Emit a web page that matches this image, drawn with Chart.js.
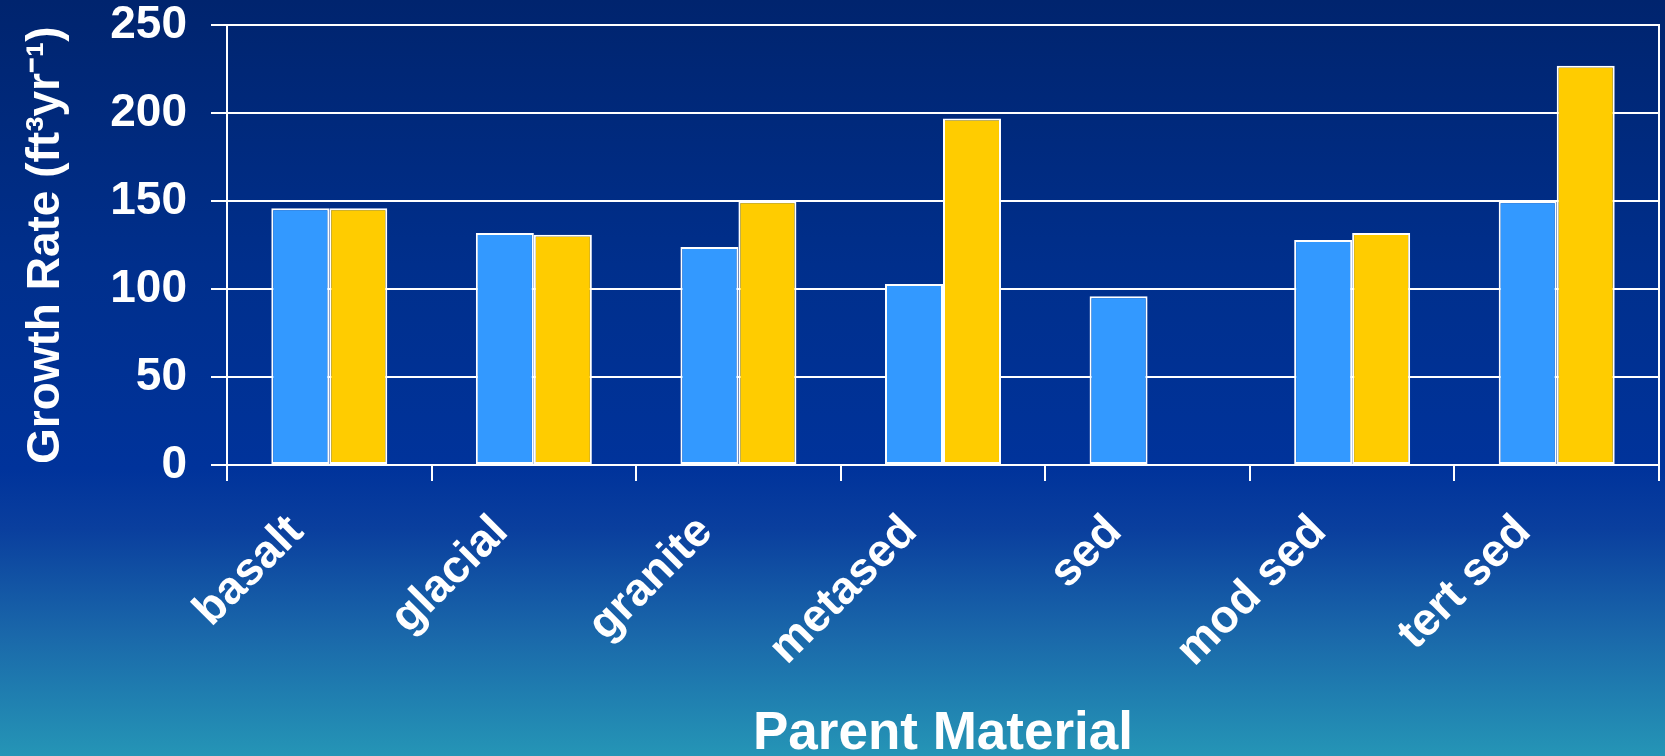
<!DOCTYPE html>
<html>
<head>
<meta charset="utf-8">
<script src="https://cdn.jsdelivr.net/npm/chart.js@4"></script>
<style>
  html, body { margin: 0; padding: 0; }
  body {
    width: 1665px; height: 756px; overflow: hidden;
    background: linear-gradient(to bottom, #00246e 0%, #002f8c 35%, #00339b 62%, #0a3f9e 70%, #1a68aa 84%, #2595b6 100%);
  }
  #wrap { position: relative; width: 1665px; height: 756px; }
</style>
</head>
<body>
<div id="wrap"><canvas id="growthChart"></canvas></div>
<script>
// 数据
const categories = ['basalt', 'glacial', 'granite', 'metased', 'sed', 'mod sed', 'tert sed'];
const seriesBlue = [146, 132, 124, 103, 96, 128, 150];
const seriesYellow = [146, 131, 150, 197, null, 132, 227];
const yTicks = [0, 50, 100, 150, 200, 250];

const FONT = '"Liberation Sans", Arial, sans-serif';

new Chart(document.getElementById('growthChart'), {
  type: 'bar',
  data: {
    labels: categories,
    datasets: [
      {
        label: 'Series 1',
        data: seriesBlue,
        backgroundColor: '#3399ff',
        borderColor: '#ffffff',
        borderWidth: 2,
        borderSkipped: false
      },
      {
        label: 'Series 2',
        data: seriesYellow,
        backgroundColor: '#ffcc00',
        borderColor: '#ffffff',
        borderWidth: 2,
        borderSkipped: false
      }
    ]
  },
  options: {
    responsive: true,
    maintainAspectRatio: false,
    animation: false,
    layout: { padding: { top: 0, right: 6, bottom: 0, left: 0 } },
    datasets: { bar: { categoryPercentage: 0.567, barPercentage: 1.0 } },
    plugins: { legend: { display: false }, tooltip: { enabled: false } },
    scales: {
      x: {
        grid: { display: true, drawOnChartArea: false, color: '#ffffff', lineWidth: 2, tickLength: 16 },
        border: { display: true, color: '#ffffff', width: 2 },
        ticks: {
          color: '#ffffff',
          font: { family: FONT, size: 46, weight: 'bold' },
          minRotation: 45, maxRotation: 45,
          padding: 24,
          labelOffset: -33,
          autoSkip: false
        },
        title: {
          display: true,
          text: 'Parent Material',
          color: '#ffffff',
          font: { family: FONT, size: 53, weight: 'bold', lineHeight: 0.8 },
          padding: { top: 0, bottom: 0 }
        },
        afterFit: (scale) => { scale.height = 291; }
      },
      y: {
        min: 0, max: 250,
        afterBuildTicks: (scale) => { scale.ticks = yTicks.map(v => ({ value: v })); },
        grid: { color: '#ffffff', lineWidth: 2, tickLength: 16 },
        border: { display: true, color: '#ffffff', width: 2 },
        ticks: {
          color: '#ffffff',
          // 行高压小，顶部留白基本只剩 padding
          font: { family: FONT, size: 46, weight: 'bold', lineHeight: 0.06 },
          padding: 24
        },
        title: {
          display: true,
          text: 'Growth Rate (ft³yr⁻¹)',
          color: '#ffffff',
          font: { family: FONT, size: 46, weight: 'bold', lineHeight: 1.2 },
          padding: { top: 19, bottom: 19 }
        },
        afterFit: (scale) => { scale.width = 227; }
      },
      yRight: {
        position: 'right',
        min: 0, max: 250,
        grid: { display: true, drawOnChartArea: false, drawTicks: false },
        border: { display: true, color: '#ffffff', width: 2 },
        ticks: { display: false },
        afterFit: (scale) => { scale.width = 0; }
      }
    }
  }
});
</script>
</body>
</html>
